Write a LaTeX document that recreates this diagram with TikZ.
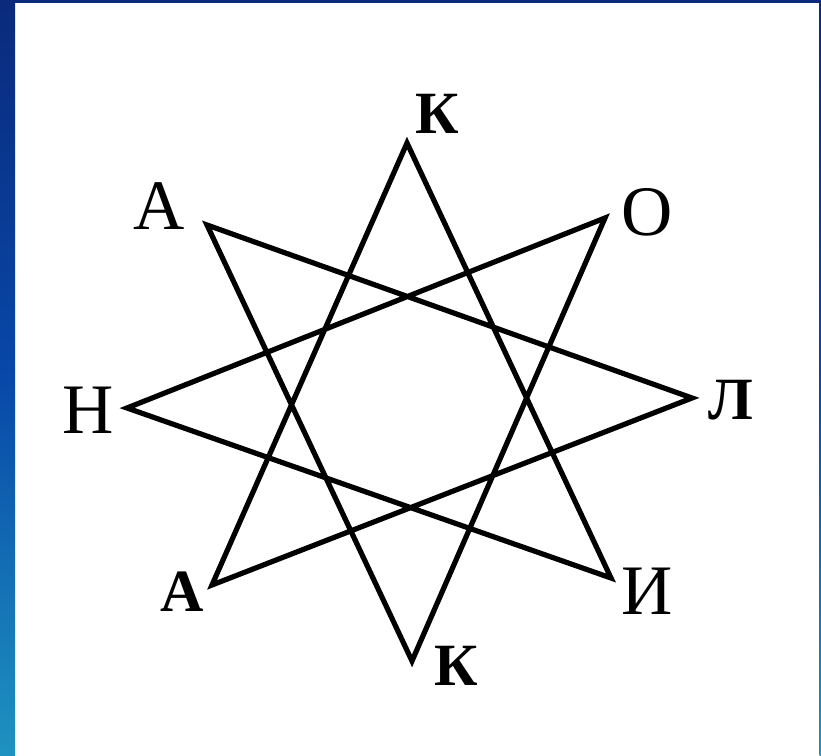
\documentclass[tikz,border=0pt]{standalone}
\usepackage{fontspec}
\setmainfont{Liberation Serif}
\definecolor{navy}{HTML}{0A2A7C}
\definecolor{midblue}{HTML}{0848A8}
\definecolor{tealblue}{HTML}{1E92C0}
\tikzset{
  lbl/.style={inner sep=0pt, font=\fontsize{71}{71}\selectfont},
  lblb/.style={inner sep=0pt, font=\fontsize{60}{60}\selectfont\bfseries},
  starline/.style={line width=5.2pt, line join=miter, black}
}
\begin{document}
\begin{tikzpicture}[x=1pt,y=1pt]
\useasboundingbox (0,0) rectangle (821,755);
\fill[white] (0,0) rectangle (821,755);
% blue frame
\shade[bottom color=tealblue, top color=navy, middle color=midblue] (0,0) rectangle (15,755);
\fill[navy] (0,752) rectangle (821,755);
\shade[bottom color=tealblue, top color=navy, middle color=midblue] (819.5,0) rectangle (821,755);
% vertices
\coordinate (Ktop) at (407,612);
\coordinate (O) at (605,537);
\coordinate (L) at (692,357);
\coordinate (I) at (611,177);
\coordinate (Kbot) at (412,94);
\coordinate (Abl) at (212,170);
\coordinate (H) at (127,347);
\coordinate (Atl) at (207,530);
% star
\draw[starline] (Ktop) -- (I) -- (H) -- (O) -- (Kbot) -- (Atl) -- (L) -- (Abl) -- cycle;
% labels
\node[lblb] (tKtop) at (437,641) {К};
\node[lbl] (tAtl) at (159,549) {А};
\node[lbl] (tO) at (647,543) {О};
\node[lbl] (tH) at (88,345) {Н};
\node[lblb] (tL) at (731,355) {Л};
\node[lblb] (tAbl) at (182,163) {А};
\node[lbl] (tI) at (647,164) {И};
\node[lblb] (tKbot) at (456,89) {К};
\end{tikzpicture}
\end{document}
